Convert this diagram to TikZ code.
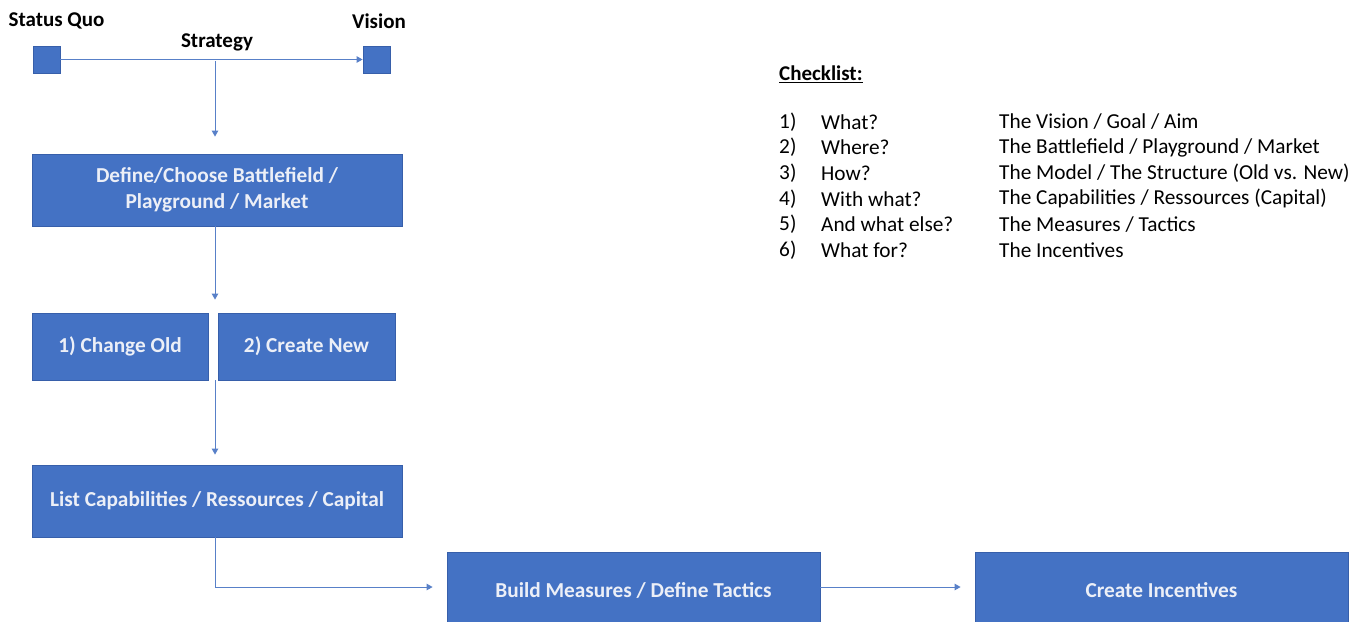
\documentclass[tikz,border=0pt]{standalone}
\usepackage{fontspec}
\setmainfont{Carlito}
\usetikzlibrary{arrows.meta}
\definecolor{boxblue}{RGB}{68,114,196}
\definecolor{boxedge}{RGB}{55,95,170}
\definecolor{linkblue}{RGB}{88,128,200}
\definecolor{boxtext}{RGB}{236,239,247}
\tikzset{
  bluebox/.style={draw=boxedge, line width=0.8pt, fill=boxblue, text=boxtext,
    font=\fontsize{21.3}{26}\selectfont\bfseries, align=center, inner sep=0pt},
  sqbox/.style={draw=boxedge, line width=0.8pt, fill=boxblue, minimum size=27pt, inner sep=0pt},
  toplabel/.style={font=\fontsize{21}{24}\selectfont\bfseries, inner sep=0pt},
  chk/.style={font=\fontsize{21.3}{24}\selectfont, anchor=west, inner sep=0pt},
  link/.style={draw=linkblue, line width=1pt},
  arr/.style={link, -{Triangle[length=6pt,width=6.5pt]}}
}
\begin{document}
\begin{tikzpicture}[x=1pt,y=-1pt]
\useasboundingbox (0,0) rectangle (1367,621);
\clip (0,0) rectangle (1367,621);
% top row
\node[sqbox] (sq) at (46.5,59.5) {};
\node[sqbox] (vis) at (376.5,59.5) {};
\node[toplabel] (sql) at (56.5,21) {Status Quo};
\node[toplabel] (visl) at (379,21) {Vision};
\node[toplabel] (strl) at (217,42) {Strategy};
\draw[arr] (sq.east) -- (vis.west);
\coordinate (strat) at (215,61);
% boxes
\node[bluebox, minimum width=370pt, minimum height=72pt] (def) at (217,190) {Define/Choose Battlefield /\\Playground / Market};
\node[bluebox, minimum width=176pt, minimum height=67pt] (old) at (120,346.5) {1) Change Old};
\node[bluebox, minimum width=177pt, minimum height=67pt] (new) at (306.5,346.5) {2) Create New};
\node[bluebox, minimum width=370pt, minimum height=72pt] (cap) at (217,501) {List Capabilities / Ressources / Capital};
\node[bluebox, minimum width=373pt, minimum height=76pt] (meas) at (633.5,590) {Build Measures / Define Tactics};
\node[bluebox, minimum width=373pt, minimum height=76pt] (inc) at (1161.5,590) {Create Incentives};
% connectors
\draw[arr, shorten >=17pt] (strat) -- (strat |- def.north);
\draw[arr, shorten >=13pt] (strat |- def.south) -- (strat |- new.north);
\coordinate (mid) at (215,380);
\draw[arr, shorten >=10pt] (mid) -- (mid |- cap.north);
\coordinate (bend) at (215,587);
\draw[arr, shorten >=14pt] (bend |- cap.south) -- (bend) -- (bend -| meas.west);
\draw[arr, shorten >=14pt] (meas.east |- bend) -- (bend -| inc.west);
% checklist
\node[chk, font=\fontsize{21}{24}\selectfont\bfseries] (chkh) at (779,74) {\underline{Checklist:}};
\node[chk] (n1) at (779,122) {1)};
\node[chk] (q1) at (821,122) {What?};
\node[chk] (a1) at (999,122) {The Vision / Goal / Aim};
\node[chk] (n2) at (779,147.6) {2)};
\node[chk] (q2) at (821,147.6) {Where?};
\node[chk] (a2) at (999,147.6) {The Battlefield / Playground / Market};
\node[chk] (n3) at (779,173.2) {3)};
\node[chk] (q3) at (821,173.2) {How?};
\node[chk] (a3) at (999,173.2) {The Model / The Structure (Old vs. New)};
\node[chk] (n4) at (779,198.8) {4)};
\node[chk] (q4) at (821,198.8) {With what?};
\node[chk] (a4) at (999,198.8) {The Capabilities / Ressources (Capital)};
\node[chk] (n5) at (779,224.4) {5)};
\node[chk] (q5) at (821,224.4) {And what else?};
\node[chk] (a5) at (999,224.4) {The Measures / Tactics};
\node[chk] (n6) at (779,250) {6)};
\node[chk] (q6) at (821,250) {What for?};
\node[chk] (a6) at (999,250) {The Incentives};
\end{tikzpicture}
\end{document}
